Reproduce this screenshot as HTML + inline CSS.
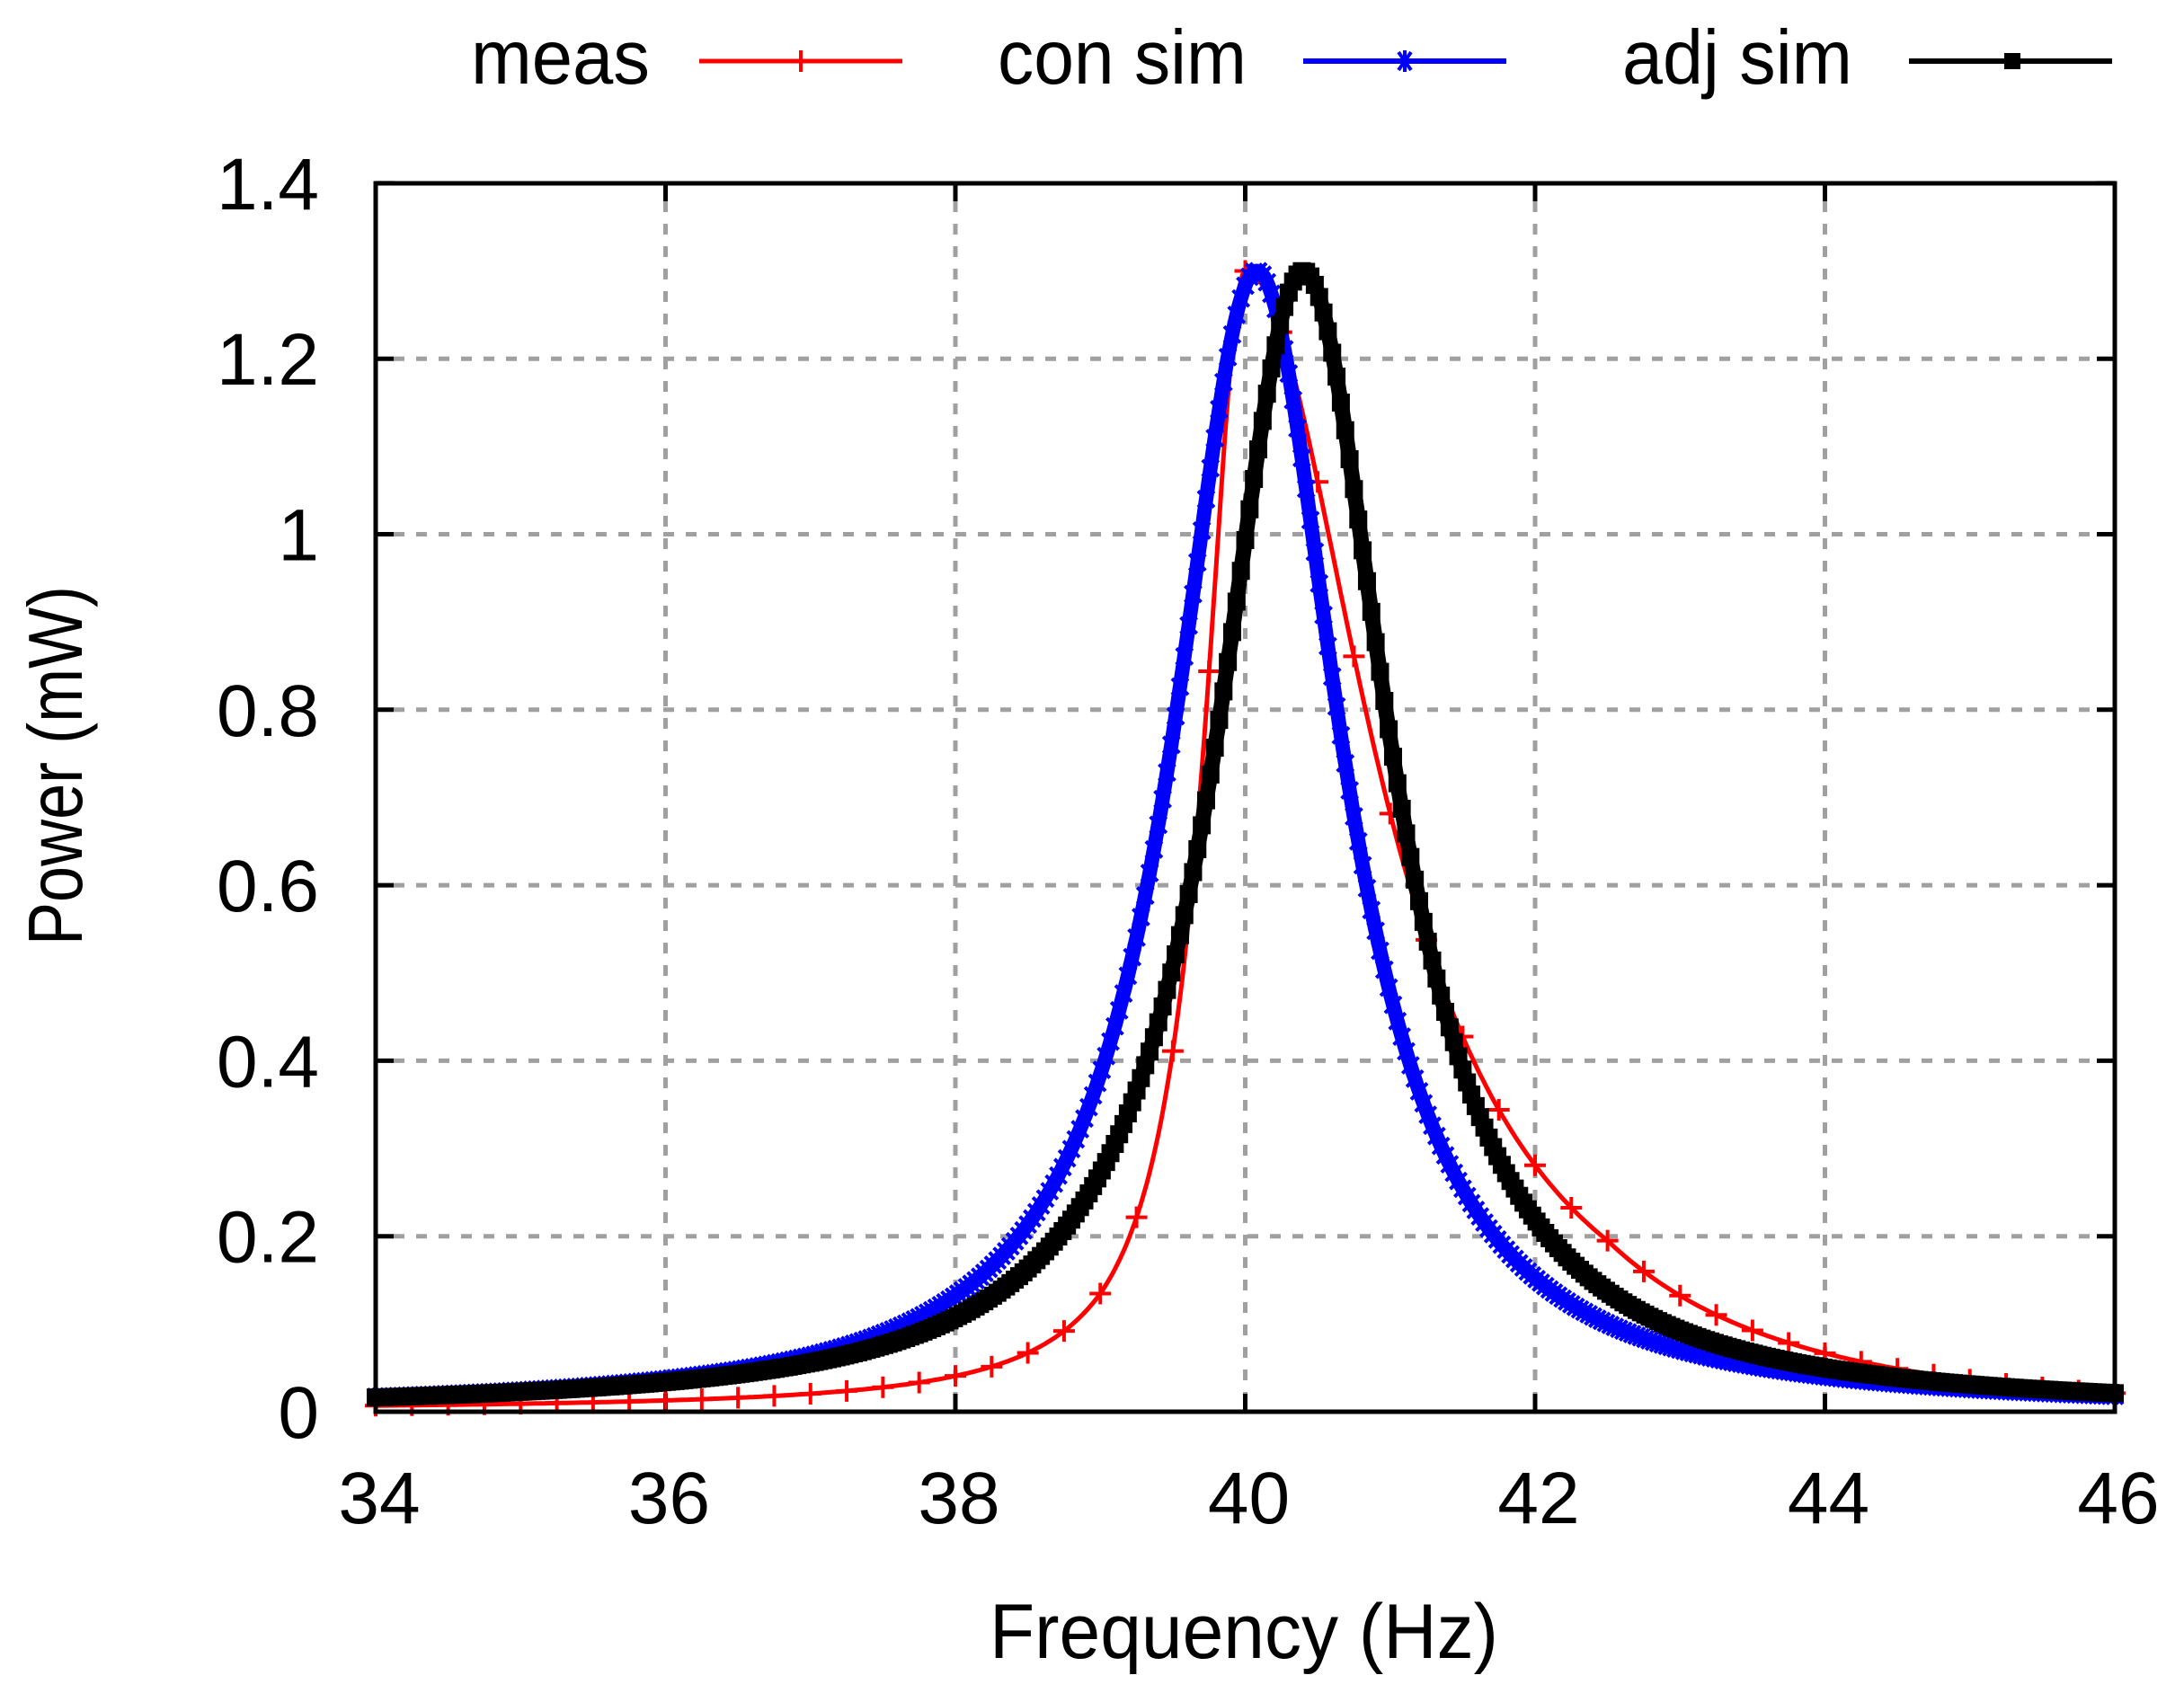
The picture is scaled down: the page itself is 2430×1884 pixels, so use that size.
<!DOCTYPE html>
<html><head><meta charset="utf-8"><style>
html,body{margin:0;padding:0;background:#fff}
svg{display:block}
text{font-family:"Liberation Sans",Arial,sans-serif;fill:#000}
</style></head><body>
<svg id="s" width="2430" height="1884" viewBox="0 0 2430 1884" xmlns="http://www.w3.org/2000/svg">
<g id="grid" stroke="#a0a0a0" stroke-width="5" stroke-dasharray="12,13" fill="none"></g>
<g id="ticks" stroke="#000" stroke-width="5"></g>
<g id="tl" font-size="82"></g>
<g id="series"></g>
<rect x="418" y="204" width="1935" height="1367" fill="none" stroke="#000" stroke-width="5"/>
<text x="91" y="852" font-size="85" text-anchor="middle" textLength="400" lengthAdjust="spacingAndGlyphs" transform="rotate(-90 91 852)">Power (mW)</text>
<text x="1384" y="1845" font-size="86" text-anchor="middle" textLength="566" lengthAdjust="spacingAndGlyphs">Frequency (Hz)</text>
<text x="524" y="93" font-size="85" textLength="199" lengthAdjust="spacingAndGlyphs">meas</text>
<text x="1110" y="93" font-size="85" textLength="277" lengthAdjust="spacingAndGlyphs">con sim</text>
<text x="1805" y="93" font-size="85" textLength="256" lengthAdjust="spacingAndGlyphs">adj sim</text>
<line x1="778" y1="68" x2="1004" y2="68" stroke="#f00" stroke-width="5"/>
<line x1="891" y1="56" x2="891" y2="80" stroke="#f00" stroke-width="4"/>
<line x1="1450" y1="68" x2="1676" y2="68" stroke="#00f" stroke-width="6"/>
<path d="M1556 58 L1570 78 M1570 58 L1556 78 M1563 56 L1563 80" stroke="#00f" stroke-width="4"/>
<line x1="2124" y1="68" x2="2350" y2="68" stroke="#000" stroke-width="6"/>
<rect x="2230" y="59" width="18" height="18" fill="#000"/>
</svg>
<script>
var X0=418,XS=161.25,Y0=1571,YS=976.5;
function px(f){return X0+(f-34)*XS}
function py(v){return Y0-v*YS}
var ns="http://www.w3.org/2000/svg";
function el(p,t,a,txt){var e=document.createElementNS(ns,t);for(var k in a)e.setAttribute(k,a[k]);if(txt!=null)e.textContent=txt;p.appendChild(e);return e}
var g=document.getElementById('grid'),tk=document.getElementById('ticks'),tl=document.getElementById('tl');
for(var f=34;f<=46;f+=2){var x=px(f);
 if(f>34&&f<46)el(g,'line',{x1:x,y1:224,x2:x,y2:1551});
 el(tk,'line',{x1:x,y1:Y0,x2:x,y2:Y0-20});el(tk,'line',{x1:x,y1:204,x2:x,y2:224});
 el(tl,'text',{x:x+4,y:1695,'text-anchor':'middle'},String(f));}
var yl=['0','0.2','0.4','0.6','0.8','1','1.2','1.4'];
for(var i=0;i<8;i++){var v=i*0.2,y=py(v);
 if(i>0&&i<7)el(g,'line',{x1:438,y1:y,x2:2333,y2:y});
 el(tk,'line',{x1:418,y1:y,x2:438,y2:y});el(tk,'line',{x1:2353,y1:y,x2:2333,y2:y});
 el(tl,'text',{x:355,y:y+29,'text-anchor':'end'},yl[i]);}
function lor(f,f0,gg){var d=(f-f0)/gg;return 1.3/(1+d*d)}
function meas(f){return f<40?lor(f,40,0.34+0.02*Math.max(0,40-f-1)):lor(f,40,1.05-0.08*Math.max(0,f-42.5))}
function con(f){return lor(f,40.08,0.7)}
function adj(f){return lor(f,40.4,0.72)}
var S=document.getElementById('series');
function poly(fn,step,col,w){var pts=[];for(var f=34;f<=46.0001;f+=step)pts.push(px(f).toFixed(1)+','+py(fn(f)).toFixed(1));
 el(S,'polyline',{points:pts.join(' '),fill:'none',stroke:col,'stroke-width':w,'stroke-linejoin':'round'});}
poly(meas,0.02,'#f00',5);
var d='';for(var f=34;f<=46.0001;f+=0.25){var x=px(f),y=py(meas(f));d+='M'+(x-12)+' '+y+'h24M'+x+' '+(y-12)+'v24'}
el(S,'path',{d:d,stroke:'#f00','stroke-width':4,fill:'none'});
poly(con,0.01,'#00f',16);
d='';for(var f=34;f<=46.0001;f+=0.03){var x=px(f),y=py(con(f));d+='M'+(x-9)+' '+(y-9)+'l18 18M'+(x+9)+' '+(y-9)+'l-18 18'}
el(S,'path',{d:d,stroke:'#00f','stroke-width':4,fill:'none'});
poly(adj,0.01,'#000',17);
d='';for(var f=34;f<=46.0001;f+=0.03){var x=px(f),y=py(adj(f));d+='M'+(x-10)+' '+(y-10)+'h20v20h-20z'}
el(S,'path',{d:d,fill:'#000'});
</script>
</body></html>
